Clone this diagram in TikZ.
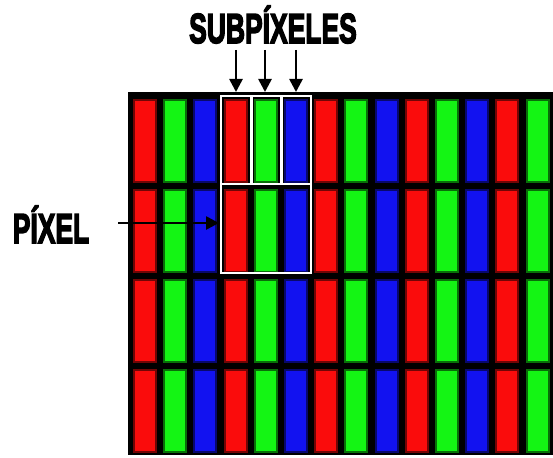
\documentclass[tikz,border=0pt]{standalone}
\usepackage{fontspec}
\setmainfont{Liberation Sans}
\newfontfamily\heavyfont{Liberation Sans}[BoldFeatures={FakeBold=4}]
\usepackage{tkz-euclide}
\usetikzlibrary{arrows.meta}
\definecolor{scrR}{RGB}{250,12,12}
\definecolor{scrG}{RGB}{20,245,20}
\definecolor{scrB}{RGB}{18,18,240}
\tikzset{bar/.style={draw=#1!45!black, fill=#1, line width=2pt},
  frame/.style={draw=white, line width=2.5pt},
  arr/.style={draw=black, line width=2.6pt, -{Triangle[length=13pt,width=13pt]}},
  tag/.style={font=\heavyfont\bfseries\fontsize{42}{42}\selectfont,
    xscale=0.63, inner sep=0pt, anchor=base}}

\begin{document}
\begin{tikzpicture}[x=1pt,y=-1pt]
                \useasboundingbox (0,0) rectangle (553,457);
                \fill[black] (128,92) rectangle (553,455);
                \begin{scope}
                \clip (128,92) rectangle (553,455);
                \foreach \p in {0,...,4}
                  \foreach \c [count=\s from 0] in {scrR,scrG,scrB}
                    \foreach \j in {0,...,3}
                      \draw[bar=\c] ({134+30.2*(3*\p+\s)},{100+90*\j}) rectangle ++(22,82);
                \end{scope}
                \draw[frame] (221,96) rectangle (311,273);
                \draw[frame] (221,184) -- (311,184);
                \draw[frame] (251.5,96) -- (251.5,184) (281.5,96) -- (281.5,184);
                \node[tag] (sub) at (273,43) {SUBPÍXELES};
                \node[tag] (pix) at (51,243) {PÍXEL};
                \tkzDefPoints{236/50/s1,265/50/s2,296/50/s3,236/92/t1,265/92/t2,296/92/t3}
                \tkzDefPoints{118/223/p1,219/223/p2}
                \draw[arr] (s1) -- (t1);
                \draw[arr] (s2) -- (t2);
                \draw[arr] (s3) -- (t3);
                \draw[arr] (p1) -- (p2);
            \end{tikzpicture}
\end{document}
